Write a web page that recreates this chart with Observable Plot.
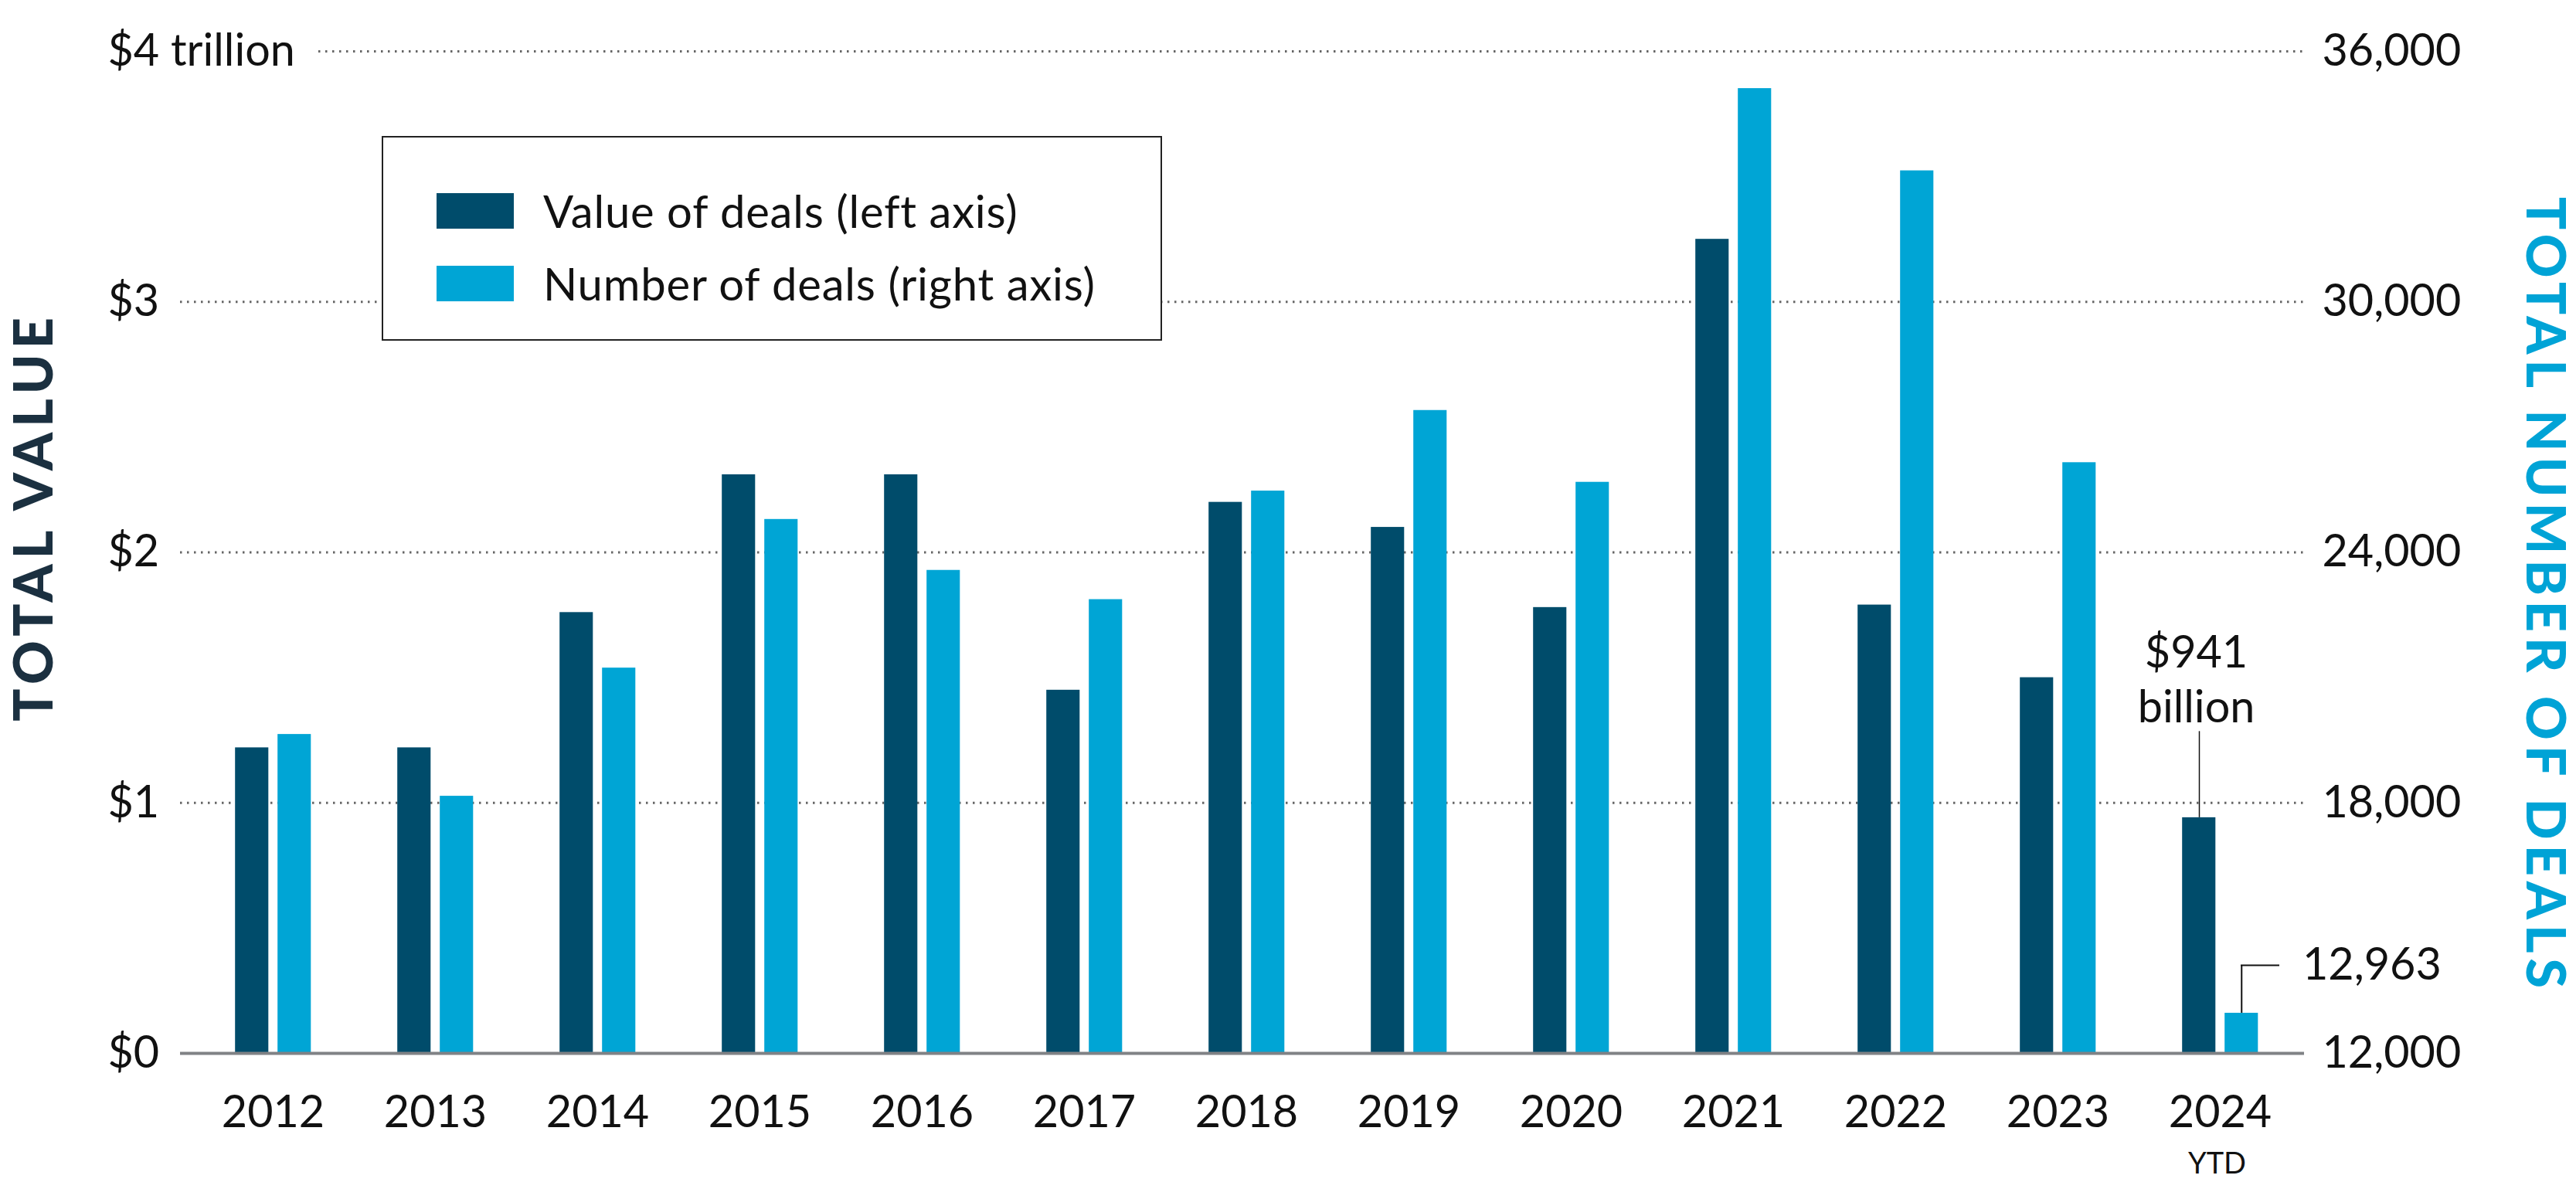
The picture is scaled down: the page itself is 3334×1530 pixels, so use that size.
<!DOCTYPE html>
<html><head><meta charset="utf-8">
<script src="https://cdn.jsdelivr.net/npm/d3@7"></script>
<script src="https://cdn.jsdelivr.net/npm/@observablehq/plot@0.6"></script>
<style>
body{margin:0;background:#fff;}
#wrap{position:relative;width:3334px;height:1530px;font-family:Lato,sans-serif;}
#legend{position:absolute;left:494px;top:176px;width:1010px;height:265px;border:2px solid #222;background:#fff;box-sizing:border-box;}
.item{position:absolute;left:69px;display:flex;align-items:center;font-size:58px;letter-spacing:0.8px;color:#111;line-height:1;}
.sw{width:100px;height:46px;margin-right:38px;flex:none;}
</style></head><body><div id="wrap"></div>
<script>
const years = ["2012","2013","2014","2015","2016","2017","2018","2019","2020","2021","2022","2023","2024"];
const dealValues = [1.22, 1.22, 1.76, 2.31, 2.31, 1.45, 2.20, 2.10, 1.78, 3.25, 1.79, 1.50, 0.941]; // $ trillion
const dealCounts = [19640, 18160, 21230, 24790, 23570, 22870, 25470, 27400, 25680, 35110, 33140, 26150, 12963];
const leftTicks = [0, 1, 2, 3, 4];
const leftTickLabels = ["$0", "$1", "$2", "$3", "$4 trillion"];
const rightTickLabels = ["12,000", "18,000", "24,000", "30,000", "36,000"];
const seriesNames = ["Value of deals (left axis)", "Number of deals (right axis)"];
const colors = ["#004c6b", "#00a5d5"];
const countBase = 12000, countStep = 6000;
const annValueText = "$941\nbillion";
const annCountText = "12,963";
const ytdText = "YTD";

const rows = years.map((y, i) => ({year: y, value: dealValues[i], count: dealCounts[i], countScaled: (dealCounts[i] - countBase) / countStep}));
const last = rows[rows.length - 1];
const ann = [{year: last.year, value: last.value, cs: last.countScaled, label: annValueText, countLabel: annCountText}];
const fs = 57.5;

const chart = Plot.plot({
  width: 3334, height: 1530,
  marginLeft: 233, marginRight: 352, marginTop: 66, marginBottom: 167,
  style: {fontFamily: "Lato, sans-serif", fontSize: fs + "px", color: "#111", background: "#fff", overflow: "visible"},
  x: {domain: years, padding: 0, insetLeft: 12, insetRight: 1, label: null},
  y: {domain: [0, 4], label: null},
  marks: [
    Plot.ruleY([1, 2, 3], {stroke: "#666", strokeWidth: 3, strokeDasharray: "2.5 6.5"}),
    Plot.ruleY([4], {stroke: "#666", strokeWidth: 3, strokeDasharray: "2.5 6.5", insetLeft: 179}),
    Plot.barY(rows, {x: "year", y: "value", fill: colors[0], insetLeft: 56.2, insetRight: 110.7}),
    Plot.barY(rows, {x: "year", y: "countScaled", fill: colors[1], insetLeft: 111.2, insetRight: 55.7}),
    Plot.ruleY([0], {stroke: "#808285", strokeWidth: 4}),
    Plot.axisY({anchor: "left", ticks: leftTicks, tickFormat: d => leftTickLabels[leftTicks.indexOf(d)], tickSize: 0, tickPadding: 94, textAnchor: "start", fontSize: fs, fill: "#111"}),
    Plot.axisY({anchor: "right", ticks: leftTicks, tickFormat: d => rightTickLabels[leftTicks.indexOf(d)], tickSize: 0, tickPadding: 23, fontSize: fs, fill: "#111"}),
    Plot.axisX({anchor: "bottom", tickSize: 0, tickPadding: 55, fontSize: fs, fill: "#111"}),
    Plot.text(ann, {x: "year", y: () => 0, text: () => ytdText, dy: 143, dx: -4, fontSize: 38, fill: "#111"}),
    // $941 billion annotation
    Plot.ruleX(ann, {x: "year", y1: "value", y2: d => d.value + 0.344, dx: -27, stroke: "#111", strokeWidth: 1.5}),
    Plot.text(ann, {x: "year", y: "value", text: "label", dx: -31, dy: -123, lineAnchor: "bottom", lineHeight: 1.24, fontSize: fs, fill: "#111"}),
    // 12,963 annotation
    Plot.ruleX(ann, {x: "year", y1: "cs", y2: d => d.cs + 0.191, dx: 27.75, stroke: "#111", strokeWidth: 2}),
    Plot.tickY(ann, {x: "year", y: d => d.cs + 0.191, insetLeft: 132, insetRight: 28, stroke: "#111", strokeWidth: 2}),
    Plot.text(ann, {x: "year", y: d => d.cs + 0.191, text: "countLabel", dx: 106.5, textAnchor: "start", fontSize: fs, fill: "#111"}),
    // axis titles
    Plot.text(["TOTAL VALUE"], {text: d => d, frameAnchor: "left", textAnchor: "middle", rotate: -90, dx: -188, dy: -46, fontSize: 70, fontWeight: 900, fill: "#1b3040"}),
    Plot.text(["TOTAL NUMBER OF DEALS"], {text: d => d, frameAnchor: "right", textAnchor: "middle", rotate: 90, dx: 310, dy: 55.5, fontSize: 70, fontWeight: 900, fill: "#00a3d6"})
  ]
});

d3.select(chart).selectAll("text").filter(function(){ return this.textContent === "TOTAL VALUE" || this.textContent === "TOTAL NUMBER OF DEALS"; })
  .attr("letter-spacing", "7px");

const wrap = document.getElementById("wrap");
wrap.appendChild(chart);
const legend = document.createElement("div");
legend.id = "legend";
seriesNames.forEach((name, i) => {
  const it = document.createElement("div");
  it.className = "item";
  it.style.top = (i === 0 ? 66 : 160) + "px";
  it.innerHTML = `<div class="sw" style="background:${colors[i]}"></div><span></span>`;
  it.querySelector("span").textContent = name;
  legend.appendChild(it);
});
wrap.appendChild(legend);
</script></body></html>
